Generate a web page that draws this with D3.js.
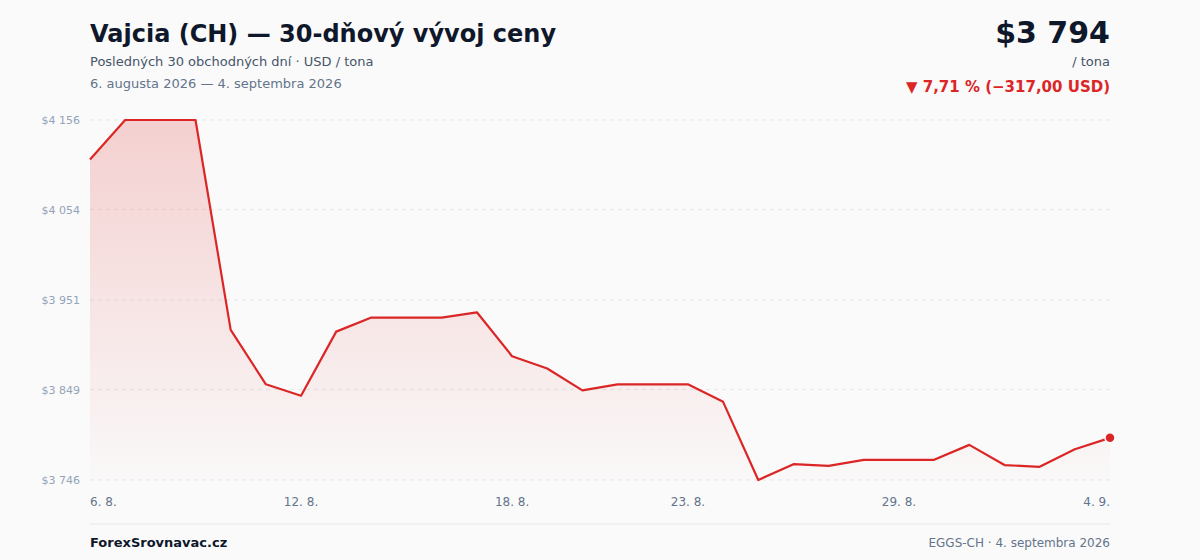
<!DOCTYPE html>
<html><head><meta charset="utf-8">
<script src="https://cdn.jsdelivr.net/npm/d3@7"></script>
<style>
body{margin:0;background:#fafafa;font-family:"DejaVu Sans",sans-serif;}
</style></head><body>
<svg id="chart" width="1200" height="560"></svg>
<script>
// data
var dates = ["6. 8.","7. 8.","8. 8.","9. 8.","10. 8.","11. 8.","12. 8.","13. 8.","14. 8.","15. 8.",
  "16. 8.","17. 8.","18. 8.","19. 8.","20. 8.","21. 8.","22. 8.","23. 8.","24. 8.","25. 8.",
  "26. 8.","27. 8.","28. 8.","29. 8.","30. 8.","31. 8.","1. 9.","2. 9.","3. 9.","4. 9."];
var prices = [4111,4156,4156,4156,3917,3855,3842,3915,3931,3931,
  3931,3937,3887,3873,3848,3855,3855,3855,3835,3746,
  3764,3762,3769,3769,3769,3786,3763,3761,3781,3794];
var yTicks = [3746,3849,3951,4054,4156];
var xTickIdx = [0,6,12,17,23,29];

var svg = d3.select("#chart");
var margin = {left: 90, right: 1110, top: 120, bottom: 480};

var x = d3.scaleLinear().domain([0, prices.length - 1]).range([margin.left, margin.right]);
var y = d3.scaleLinear().domain([3746, 4156]).range([margin.bottom, margin.top]);
var fmt = function(v){ return "$" + d3.format(",")(v).replace(/,/g, " "); };

var defs = svg.append("defs");
var grad = defs.append("linearGradient").attr("id","fill").attr("x1",0).attr("y1",0).attr("x2",0).attr("y2",1);
grad.append("stop").attr("offset","0%").attr("stop-color","#dc2626").attr("stop-opacity",0.2);
grad.append("stop").attr("offset","100%").attr("stop-color","#dc2626").attr("stop-opacity",0.01);

// grid
svg.append("g").selectAll("line").data(yTicks).enter().append("line")
  .attr("x1", margin.left).attr("x2", margin.right)
  .attr("y1", d => y(d)).attr("y2", d => y(d))
  .attr("stroke", "#e5e7eb").attr("stroke-dasharray", "4,4");

svg.append("g").selectAll("text").data(yTicks).enter().append("text")
  .attr("x", 80).attr("y", d => y(d) + 4).attr("text-anchor", "end")
  .attr("font-size", 11).attr("fill", "#94a3b8").text(fmt);

svg.append("g").selectAll("text").data(xTickIdx).enter().append("text")
  .attr("x", d => x(d)).attr("y", 506)
  .attr("text-anchor", (d, i) => i === 0 ? "start" : (i === xTickIdx.length - 1 ? "end" : "middle"))
  .attr("font-size", 12).attr("fill", "#64748b").text(d => dates[d]);

var area = d3.area().x((d, i) => x(i)).y0(margin.bottom).y1(d => y(d));
var line = d3.line().x((d, i) => x(i)).y(d => y(d));

svg.append("path").datum(prices).attr("d", area).attr("fill", "url(#fill)");
svg.append("path").datum(prices).attr("d", line).attr("fill", "none")
  .attr("stroke", "#dc2626").attr("stroke-width", 2.2).attr("stroke-linejoin", "round");
svg.append("circle").attr("cx", x(prices.length - 1)).attr("cy", y(prices[prices.length - 1]))
  .attr("r", 5).attr("fill", "#dc2626").attr("stroke", "#fff").attr("stroke-width", 1.5);

// header
svg.append("text").attr("x", 90).attr("y", 42).attr("font-size", 24).attr("font-weight", "bold")
  .attr("fill", "#0f172a").text("Vajcia (CH) — 30-dňový vývoj ceny");
svg.append("text").attr("x", 90).attr("y", 66).attr("font-size", 13).attr("fill", "#475569")
  .text("Posledných 30 obchodných dní · USD / tona");
svg.append("text").attr("x", 90).attr("y", 88).attr("font-size", 13).attr("fill", "#64748b")
  .text("6. augusta 2026 — 4. septembra 2026");
svg.append("text").attr("x", 1110).attr("y", 43).attr("text-anchor", "end").attr("font-size", 30)
  .attr("font-weight", "bold").attr("fill", "#0f172a").text(fmt(prices[prices.length - 1]));
svg.append("text").attr("x", 1110).attr("y", 66).attr("text-anchor", "end").attr("font-size", 13)
  .attr("fill", "#475569").text("/ tona");
svg.append("text").attr("x", 1110).attr("y", 92).attr("text-anchor", "end").attr("font-size", 15)
  .attr("font-weight", "bold").attr("fill", "#dc2626").text("▼ 7,71 % (−317,00 USD)");

// footer
svg.append("line").attr("x1", 90).attr("x2", 1110).attr("y1", 524).attr("y2", 524).attr("stroke", "#e5e7eb");
svg.append("text").attr("x", 90).attr("y", 547).attr("font-size", 13).attr("font-weight", "bold")
  .attr("fill", "#0f172a").text("ForexSrovnavac.cz");
svg.append("text").attr("x", 1110).attr("y", 547).attr("text-anchor", "end").attr("font-size", 12)
  .attr("fill", "#64748b").text("EGGS-CH · 4. septembra 2026");
</script></body></html>
